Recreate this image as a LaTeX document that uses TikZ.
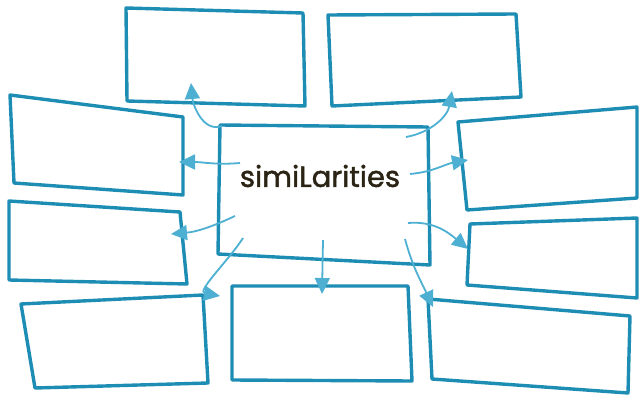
\documentclass[tikz,border=0pt]{standalone}
\usepackage{fontspec}
\usepackage{xcolor}
\usetikzlibrary{arrows.meta}
\newfontfamily\handfont[FakeBold=1.6]{Poppins}
\definecolor{boxblue}{HTML}{1E8DB4}
\definecolor{linkblue}{HTML}{4DB0D3}
\definecolor{inkbrown}{HTML}{2B2415}
\tikzset{x=1pt,y=-1pt,
    sketch/.style={draw=boxblue,line width=3.4pt,line join=round},
    link/.style={draw=linkblue,line width=1.8pt,
        -{Triangle[length=16pt,width=15pt]}},
    title/.style={font=\handfont\fontsize{29}{34}\selectfont,text=inkbrown}}

\begin{document}
\begin{tikzpicture}
\useasboundingbox (0,0) rectangle (640,396);
% boxes
\draw[sketch] (220,125) -- (428,127) -- (430,265) -- (218,254) -- cycle;
\draw[sketch] (126,8) -- (303,13) -- (305,106) -- (127,101) -- cycle;
\draw[sketch] (328,15) -- (516,14) -- (521,97) -- (332,106) -- cycle;
\draw[sketch] (10,95) -- (183,117) -- (183,195) -- (14,183) -- cycle;
\draw[sketch] (458,122) -- (637,107) -- (637,198) -- (467,210) -- cycle;
\draw[sketch] (9,201) -- (180,212) -- (187,284) -- (9,280) -- cycle;
\draw[sketch] (470,224) -- (637,218) -- (637,298) -- (467,285) -- cycle;
\draw[sketch] (21,304) -- (203,295) -- (208,383) -- (35,388) -- cycle;
\draw[sketch] (232,286) -- (408,286) -- (412,381) -- (232,380) -- cycle;
\draw[sketch] (428,299) -- (630,316) -- (628,393) -- (432,379) -- cycle;

\node[title] (sim) at (320,176) {simiLarities};

% tails in the centre box
\coordinate (s1) at (222,126);
\coordinate (s2) at (240,163);
\coordinate (s3) at (406,137);
\coordinate (s4) at (410,174);
\coordinate (s5) at (235,216);
\coordinate (s6) at (243,238);
\coordinate (s7) at (323,240);
\coordinate (s8) at (405,239);
\coordinate (s9) at (408,223);
% tips
\coordinate (t1) at (191,83);
\coordinate (t2) at (179,162);
\coordinate (t3) at (452,91);
\coordinate (t4) at (468,160);
\coordinate (t5) at (171,234);
\coordinate (t6) at (220,296);
\coordinate (t7) at (322,294);
\coordinate (t8) at (433,307);
\coordinate (t9) at (468,249);

\draw[link] (s1) to[out=200,in=-85] (t1);
\draw[link] (s2) to[out=185,in=0] (t2);
\draw[link] (s3) to[out=10,in=-100] (t3);
\draw[link] (s4) to[out=5,in=190] (t4);
\draw[link] (s5) to[out=205,in=5] (t5);
\draw[link] (s6) to[out=238,in=170] (t6);
\draw[link] (s7) -- (t7);
\draw[link] (s8) to[out=-75,in=115] (t8);
\draw[link] (s9) to[out=5,in=140] (t9);
\end{tikzpicture}
\end{document}
